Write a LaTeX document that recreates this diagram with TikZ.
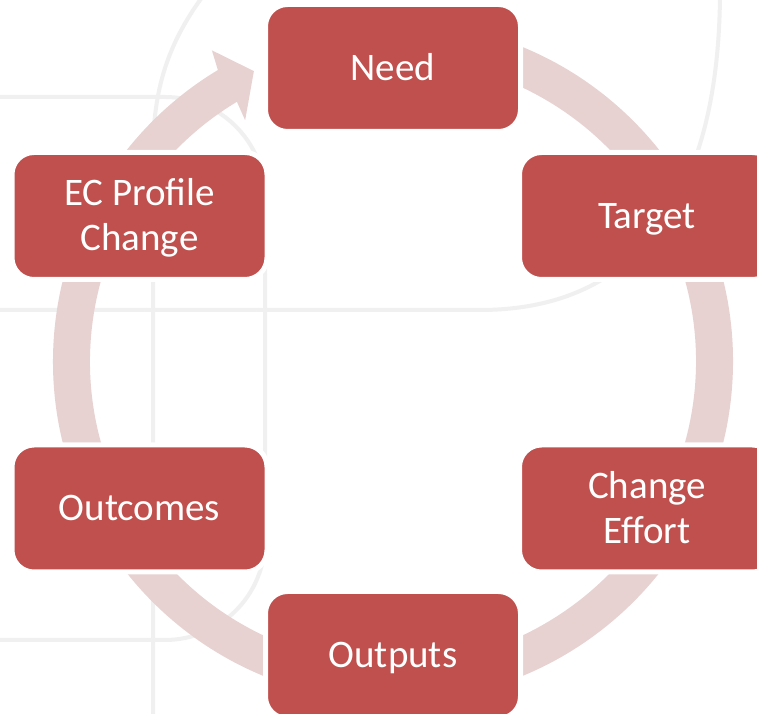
\documentclass[tikz,border=0pt]{standalone}
\usepackage{fontspec}
\setmainfont{Carlito}
\usetikzlibrary{calc}
\definecolor{boxred}{RGB}{192,80,77}
\definecolor{ringpink}{RGB}{232,209,209}
\definecolor{bggray}{RGB}{240,240,240}
\tikzset{
	cyclebox/.style={fill=boxred, draw=white, line width=5pt, rounded corners=22pt,
		minimum width=255pt, minimum height=127pt, inner sep=0pt,
		text=white, align=center, text height=25pt, text depth=0pt,
		font=\fontsize{39}{45}\selectfont},
	twolines/.style={text height=70pt},
	bgline/.style={draw=bggray, line width=4pt}
}

\begin{document}
\begin{tikzpicture}[x=1pt, y=1pt]
		%%%%% START %%%%%
		
		\clip (0, 0) rectangle (757, 714);
		\fill[white] (0, 0) rectangle (757, 714);
		\coordinate (c) at (393, 352.5);
		
		% faint lines in the back
		\draw[bgline] (-10, 617) -- (165, 617) arc[start angle=90, end angle=0, radius=100] -- (265, 174) arc[start angle=0, end angle=-90, radius=100] -- (-10, 74);
		\draw[bgline] (206, 722) .. controls (168, 672) and (153, 625) .. (153, 560) -- (153, -10);
		\draw[bgline] (-10, 404) -- (480, 404) .. controls (640, 404) and (720, 520) .. (720, 724);
		
		% the ring with its head
		\fill[ringpink] ($(c)+(85:340)$) arc[start angle=85, end angle=-239, radius=340]
			-- ($(c)+(120.2:360)$) -- ($(c)+(115.6:322)$) -- ($(c)+(121.5:283)$)
			-- ($(c)+(121:303)$) arc[start angle=-239, end angle=85, radius=303] -- cycle;
		
		\node[cyclebox] (need) at (393, 646) {Need};
		\node[cyclebox] (target) at (647, 498) {Target};
		\node[cyclebox, twolines] (effort) at (647, 205.5) {Change\\Effort};
		\node[cyclebox] (outputs) at (393, 59) {Outputs};
		\node[cyclebox] (outcomes) at (139.5, 205.5) {Outcomes};
		\node[cyclebox, twolines] (profile) at (139.5, 498) {EC Profile\\Change};
		
		%%%%% END %%%%%
\end{tikzpicture}
\end{document}
